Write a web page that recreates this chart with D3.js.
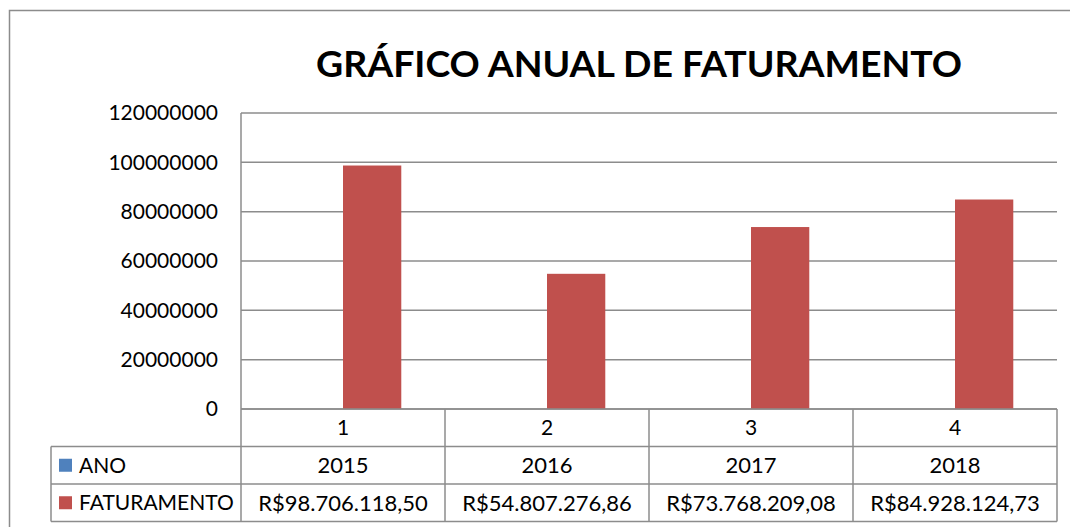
<!DOCTYPE html>
<html>
<head>
<meta charset="utf-8">
<script src="https://cdn.jsdelivr.net/npm/d3@7"></script>
<style>
  body { margin: 0; background: #fff; }
  svg text { font-family: Lato, "Open Sans", sans-serif; fill: #000; }
</style>
</head>
<body>
<div id="chart"></div>
<script>
// data
var categories = ["1", "2", "3", "4"];
var anos = [2015, 2016, 2017, 2018];
var faturamento = [98706118.50, 54807276.86, 73768209.08, 84928124.73];
var yTicks = [0, 20000000, 40000000, 60000000, 80000000, 100000000, 120000000];
var seriesNames = ["ANO", "FATURAMENTO"];
var seriesColors = ["#4f81bd", "#c0504d"];

var W = 1070, H = 527;
var plot = { left: 241, right: 1057, top: 113, bottom: 409 };
var rowH = 37.5;
var tableLeft = 51;
var lineColor = "#8c8c8c";

var brl = d3.formatLocale({
    decimal: ",", thousands: ".", grouping: [3], currency: ["R$", ""]
}).format("$,.2f");

var svg = d3.select("#chart").append("svg")
    .attr("width", W)
    .attr("height", H);

// chart border
svg.append("rect")
    .attr("x", 9.5).attr("y", 10.5)
    .attr("width", W + 20).attr("height", H + 20)
    .attr("fill", "none")
    .attr("stroke", lineColor)
    .attr("stroke-width", 1.5);

// title
svg.append("text")
    .attr("x", 639).attr("y", 77)
    .attr("text-anchor", "middle")
    .attr("font-size", 36)
    .attr("font-weight", "bold")
    .attr("textLength", 646)
    .attr("lengthAdjust", "spacingAndGlyphs")
    .text("GRÁFICO ANUAL DE FATURAMENTO");

var x = d3.scaleBand()
    .domain(categories)
    .range([plot.left, plot.right])
    .padding(0);

var xSub = d3.scaleBand()
    .domain(seriesNames)
    .range([0, x.bandwidth()])
    .paddingInner(0)
    .paddingOuter(0.75);

var y = d3.scaleLinear()
    .domain([0, 120000000])
    .range([plot.bottom, plot.top]);

// gridlines
svg.append("g")
    .selectAll("line")
    .data(yTicks)
    .enter().append("line")
    .attr("x1", plot.left).attr("x2", plot.right)
    .attr("y1", function (d) { return y(d); })
    .attr("y2", function (d) { return y(d); })
    .attr("stroke", lineColor)
    .attr("stroke-width", 1.5);

// y axis labels
var yAxis = svg.append("g")
    .attr("transform", "translate(" + plot.left + ",0)")
    .call(d3.axisLeft(y).tickValues(yTicks).tickSize(0).tickPadding(23).tickFormat(d3.format("d")));
yAxis.select(".domain").remove();
yAxis.selectAll("text")
    .attr("font-size", 21)
    .attr("font-family", "Lato, sans-serif");

// bars
var rows = categories.map(function (c, i) {
    return { cat: c, values: [anos[i], faturamento[i]] };
});

var groups = svg.append("g")
    .selectAll("g")
    .data(rows)
    .enter().append("g")
    .attr("transform", function (d) { return "translate(" + x(d.cat) + ",0)"; });

groups.selectAll("rect")
    .data(function (d) {
        return d.values.map(function (v, j) { return { name: seriesNames[j], v: v, c: seriesColors[j] }; });
    })
    .enter().append("rect")
    .attr("x", function (d) { return xSub(d.name); })
    .attr("width", xSub.bandwidth())
    .attr("y", function (d) { return y(d.v); })
    .attr("height", function (d) { return y(0) - y(d.v); })
    .attr("fill", function (d) { return d.c; });

// data table
var tbl = svg.append("g");
var rowsY = [plot.bottom, plot.bottom + rowH, plot.bottom + 2 * rowH, plot.bottom + 3 * rowH];

// horizontal lines
tbl.append("line")
    .attr("x1", plot.left).attr("x2", plot.right)
    .attr("y1", rowsY[0]).attr("y2", rowsY[0]);
[1, 2, 3].forEach(function (k) {
    tbl.append("line")
        .attr("x1", tableLeft).attr("x2", plot.right)
        .attr("y1", rowsY[k]).attr("y2", rowsY[k]);
});
// vertical lines
tbl.append("line")
    .attr("x1", plot.left).attr("x2", plot.left)
    .attr("y1", plot.top).attr("y2", rowsY[3]);
tbl.append("line")
    .attr("x1", tableLeft).attr("x2", tableLeft)
    .attr("y1", rowsY[1]).attr("y2", rowsY[3]);
categories.forEach(function (c) {
    var xr = x(c) + x.bandwidth();
    tbl.append("line")
        .attr("x1", xr).attr("x2", xr)
        .attr("y1", rowsY[0]).attr("y2", rowsY[3]);
});
tbl.selectAll("line")
    .attr("stroke", lineColor)
    .attr("stroke-width", 1.5);

// category labels
tbl.selectAll("text.cat")
    .data(categories)
    .enter().append("text")
    .attr("class", "cat")
    .attr("x", function (d) { return x(d) + x.bandwidth() / 2; })
    .attr("y", rowsY[0] + rowH / 2)
    .attr("dy", "0.36em")
    .attr("text-anchor", "middle")
    .attr("font-size", 21)
    .text(function (d) { return d; });

// series rows
var tableRows = [
    { name: seriesNames[0], color: seriesColors[0], cells: anos.map(String) },
    { name: seriesNames[1], color: seriesColors[1], cells: faturamento.map(brl) }
];

tableRows.forEach(function (r, k) {
    var cy = rowsY[k + 1] + rowH / 2;
    tbl.append("rect")
        .attr("x", 59).attr("y", cy - 6.5)
        .attr("width", 13).attr("height", 13)
        .attr("fill", r.color);
    tbl.append("text")
        .attr("x", 79).attr("y", cy)
        .attr("dy", "0.36em")
        .attr("font-size", 21)
        .text(r.name);
    r.cells.forEach(function (t, i) {
        tbl.append("text")
            .attr("x", x(categories[i]) + x.bandwidth() / 2)
            .attr("y", cy)
            .attr("dy", "0.36em")
            .attr("text-anchor", "middle")
            .attr("font-size", 22)
            .text(t);
    });
});
</script>
</body>
</html>
